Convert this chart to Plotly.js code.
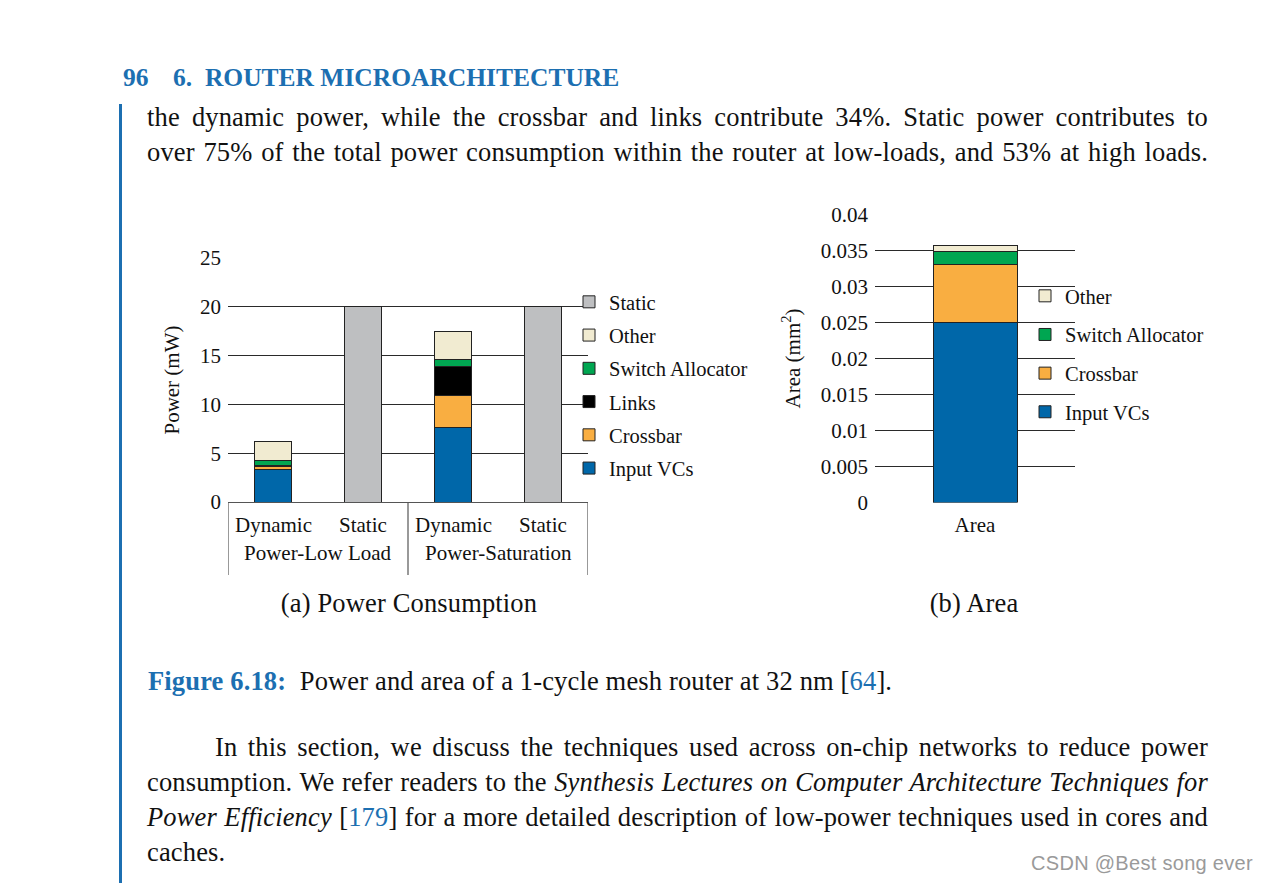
<!DOCTYPE html>
<html>
<head>
<meta charset="utf-8">
<script src="https://cdn.plot.ly/plotly-3.0.1.min.js"></script>
<style>
  html, body { margin:0; padding:0; background:#fff; }
  #page { position:relative; width:1273px; height:883px; overflow:hidden; background:#fff; }
  #chart { position:absolute; left:0; top:0; width:1273px; height:883px; }
  .t { position:absolute; font-family:"Liberation Serif", "Times New Roman", serif; color:#111; font-size:26.5px; letter-spacing:0.15px; line-height:35px; white-space:nowrap; }
  .j { text-align:justify; text-align-last:justify; white-space:normal; }
  .blue { color:#1c6fb1; }
  #bar { position:absolute; left:119px; top:104px; width:3px; height:779px; background:#1c6fb1; }
</style>
</head>
<body>
<div id="page">
  <div id="chart"></div>
  <div id="bar"></div>
  <div class="t blue" style="left:123px; top:60px; font-weight:bold; font-size:25.5px; letter-spacing:0;">96</div>
  <div class="t blue" style="left:173px; top:60px; font-weight:bold; font-size:25.5px; letter-spacing:0;">6.&nbsp;&nbsp;ROUTER MICROARCHITECTURE</div>
  <div class="t j" style="left:147px; top:100px; width:1061px;">the dynamic power, while the crossbar and links contribute 34%. Static power contributes to</div>
  <div class="t j" style="left:147px; top:135px; width:1061px;">over 75% of the total power consumption within the router at low-loads, and 53% at high loads.</div>
  <div class="t" style="left:209px; top:586px; width:400px; text-align:center;">(a) Power Consumption</div>
  <div class="t" style="left:774px; top:586px; width:400px; text-align:center;">(b) Area</div>
  <div class="t" style="left:148px; top:664px;"><span class="blue" style="font-weight:bold;">Figure 6.18:</span>&nbsp; Power and area of a 1-cycle mesh router at 32 nm [<span class="blue">64</span>].</div>
  <div class="t j" style="left:215px; top:730px; width:993px;">In this section, we discuss the techniques used across on-chip networks to reduce power</div>
  <div class="t j" style="left:147px; top:765px; width:1061px;">consumption. We refer readers to the <i>Synthesis Lectures on Computer Architecture Techniques for</i></div>
  <div class="t j" style="left:147px; top:800px; width:1061px;"><i>Power Efficiency</i> [<span class="blue">179</span>] for a more detailed description of low-power techniques used in cores and</div>
  <div class="t" style="left:147px; top:835px;">caches.</div>
  <div class="t" style="left:1031px; top:851px; font-family:'Liberation Sans', Arial, sans-serif; font-size:20px; letter-spacing:0.3px; line-height:24px; color:#9a9a9a;">CSDN @Best song ever</div>
</div>
<script>
// ---- Data: (a) Power Consumption (mW) ----
var powerGroups = ["Power-Low Load", "Power-Low Load", "Power-Saturation", "Power-Saturation"];
var powerKinds  = ["Dynamic", "Static", "Dynamic", "Static"];
var powerInputVCs  = [3.3, null, 7.65, null];
var powerCrossbar  = [0.3, null, 3.3, null];
var powerLinks     = [0.1, null, 2.9, null];
var powerSwitchAlloc = [0.6, null, 0.8, null];
var powerOther     = [1.95, null, 2.8, null];
var powerStatic    = [null, 20, null, 20];
var powerTicks = [0, 5, 10, 15, 20, 25];
var groupNames = ["Power-Low Load", "Power-Saturation"];

// ---- Data: (b) Area (mm^2) ----
var areaCategory = ["Area"];
var areaInputVCs = [0.025];
var areaCrossbar = [0.008];
var areaSwitchAlloc = [0.0019];
var areaOther = [0.0008];
var areaTicks = [0, 0.005, 0.01, 0.015, 0.02, 0.025, 0.03, 0.035, 0.04];

var C = {
  input: "#0067a9", crossbar: "#f9ae41", links: "#000000",
  sa: "#00a651", other: "#f1ebd1", stat: "#bebfc1"
};
var W = 1273, H = 883;
var serif = "Liberation Serif, Times New Roman, serif";
var outline = {color: "#222", width: 1};

function pbar(name, y, color, rank) {
  return {type: "bar", name: name, x: [powerGroups, powerKinds], y: y,
    xaxis: "x", yaxis: "y", legend: "legend", legendgroup: "p" + rank, legendrank: rank,
    width: 0.41, marker: {color: color, line: outline}, hoverinfo: "skip"};
}
function abar(name, y, color, rank) {
  return {type: "bar", name: name, x: areaCategory, y: y,
    xaxis: "x2", yaxis: "y2", legend: "legend2", legendgroup: "a" + rank, legendrank: rank,
    width: 0.42, marker: {color: color, line: outline}, hoverinfo: "skip"};
}

var data = [
  pbar("Input VCs", powerInputVCs, C.input, 6),
  pbar("Crossbar", powerCrossbar, C.crossbar, 5),
  pbar("Links", powerLinks, C.links, 4),
  pbar("Switch Allocator", powerSwitchAlloc, C.sa, 3),
  pbar("Other", powerOther, C.other, 2),
  pbar("Static", powerStatic, C.stat, 1),
  abar("Input VCs", areaInputVCs, C.input, 4),
  abar("Crossbar", areaCrossbar, C.crossbar, 3),
  abar("Switch Allocator", areaSwitchAlloc, C.sa, 2),
  abar("Other", areaOther, C.other, 1)
];

// positions of categories / groups on the index scale of the multicategory axis
var kindPos = powerKinds.map(function (_, i) { return i; });
var groupPos = groupNames.map(function (g) {
  var first = powerGroups.indexOf(g), last = powerGroups.lastIndexOf(g);
  return (first + last) / 2;
});
var dividerPos = [-0.5].concat(groupNames.map(function (g) { return powerGroups.lastIndexOf(g) + 0.5; }));

var tickFont = {family: serif, size: 21, color: "#111"};
var shapes = dividerPos.map(function (p) {
  return {type: "line", xref: "x3", yref: "paper", x0: p, x1: p,
    y0: (H - 502) / H, y1: (H - 575) / H, line: {color: "#555", width: 1.2}};
});
// two-level category labels of the power chart
var annotations = [];
powerKinds.forEach(function (k, i) {
  annotations.push({xref: "x3", yref: "paper", x: kindPos[i], y: (H - 525) / H,
    text: k, showarrow: false, xanchor: "center", yanchor: "middle", font: tickFont});
});
groupNames.forEach(function (g, i) {
  annotations.push({xref: "x3", yref: "paper", x: groupPos[i], y: (H - 553) / H,
    text: g, showarrow: false, xanchor: "center", yanchor: "middle", font: tickFont});
});

var layout = {
  width: W, height: H,
  margin: {l: 0, r: 0, t: 0, b: 0},
  paper_bgcolor: "rgba(0,0,0,0)", plot_bgcolor: "rgba(0,0,0,0)",
  barmode: "stack", showlegend: true,
  font: {family: serif, color: "#111"},
  shapes: shapes,
  annotations: annotations,
  xaxis: {
    domain: [228 / W, 588 / W], anchor: "y", type: "multicategory",
    showgrid: false, showline: true, linecolor: "#555", linewidth: 1.2,
    showdividers: false, showticklabels: false, ticks: "", fixedrange: true
  },
  xaxis3: {
    overlaying: "x", anchor: "y", type: "linear", range: [-0.5, powerKinds.length - 0.5],
    showticklabels: false, showgrid: false, zeroline: false,
    showline: false, ticks: "", fixedrange: true
  },
  yaxis: {
    domain: [(H - 502) / H, (H - 258) / H], anchor: "x",
    range: [0, 25], tickvals: powerTicks, ticktext: powerTicks.map(String),
    showgrid: true, gridcolor: "#2a2a2a", gridwidth: 1,
    zeroline: false, showline: false, ticks: "", ticklabelstandoff: 6,
    tickfont: tickFont,
    title: {text: "Power (mW)", font: {family: serif, size: 21, color: "#111"}, standoff: 14}
  },
  xaxis2: {
    domain: [875 / W, 1075 / W], anchor: "y2", type: "category",
    range: [-0.5, 0.5], showgrid: false, showline: false, zeroline: false,
    tickfont: tickFont, ticks: "", ticklabelstandoff: 7, fixedrange: true
  },
  yaxis2: {
    domain: [(H - 502.5) / H, (H - 214.3) / H], anchor: "x2",
    range: [0, 0.04], tickvals: areaTicks, ticktext: areaTicks.map(String),
    showgrid: true, gridcolor: "#2a2a2a", gridwidth: 1,
    zeroline: false, showline: false, ticks: "", ticklabelstandoff: 6,
    tickfont: tickFont,
    title: {text: "Area (mm<sup>2</sup>)", font: {family: serif, size: 21, color: "#111"}, standoff: 14}
  },
  legend: {
    x: 569 / W, y: (H - 282) / H, xanchor: "left", yanchor: "top",
    traceorder: "grouped", tracegroupgap: 3.6,
    font: {family: serif, size: 20.5, color: "#111"},
    bgcolor: "rgba(0,0,0,0)", itemclick: false
  },
  legend2: {
    x: 1025 / W, y: (H - 276) / H, xanchor: "left", yanchor: "top",
    traceorder: "grouped", tracegroupgap: 9,
    font: {family: serif, size: 20.5, color: "#111"},
    bgcolor: "rgba(0,0,0,0)", itemclick: false
  }
};

Plotly.newPlot("chart", data, layout, {staticPlot: true, displayModeBar: false});
</script>
</body>
</html>
